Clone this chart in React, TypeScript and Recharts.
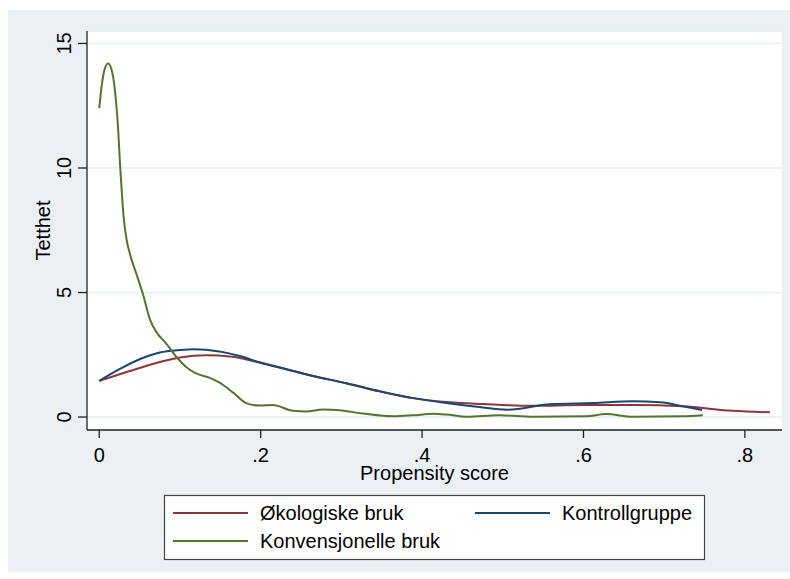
import React from 'react';
import { LineChart, Line, XAxis, YAxis, CartesianGrid } from 'recharts';

// Kernel density of propensity score, by group
const okoX = [0, 0.038, 0.075, 0.1, 0.133, 0.162, 0.199, 0.232, 0.265, 0.306, 0.348, 0.389, 0.434, 0.476, 0.538, 0.6, 0.661, 0.723, 0.785, 0.831];
const okoY = [1.45, 1.85, 2.21, 2.39, 2.48, 2.43, 2.19, 1.92, 1.65, 1.36, 1.03, 0.76, 0.59, 0.52, 0.45, 0.48, 0.48, 0.43, 0.25, 0.19];

const kontrollX = [0, 0.025, 0.05, 0.075, 0.1, 0.116, 0.149, 0.174, 0.199, 0.232, 0.265, 0.306, 0.348, 0.389, 0.43, 0.471, 0.505, 0.558, 0.612, 0.661, 0.695, 0.723, 0.747];
const kontrollY = [1.45, 1.92, 2.32, 2.59, 2.69, 2.72, 2.63, 2.45, 2.19, 1.92, 1.65, 1.36, 1.03, 0.76, 0.56, 0.4, 0.29, 0.51, 0.56, 0.63, 0.59, 0.43, 0.28];

const konvX = [0, 0.003, 0.007, 0.011, 0.016, 0.0204, 0.0233, 0.026, 0.028, 0.03, 0.034, 0.038, 0.046, 0.054, 0.063, 0.071, 0.083, 0.096, 0.108, 0.12, 0.137, 0.149, 0.166, 0.182, 0.199, 0.215, 0.24, 0.257, 0.277, 0.298, 0.327, 0.364, 0.389, 0.414, 0.43, 0.455, 0.496, 0.538, 0.604, 0.628, 0.661, 0.723, 0.748];
const konvY = [12.4, 13.3, 14.0, 14.2, 13.85, 12.8, 11.6, 10.0, 9.0, 8.1, 7.1, 6.55, 5.75, 4.95, 3.9, 3.4, 2.95, 2.4, 2.0, 1.75, 1.57, 1.38, 0.98, 0.56, 0.46, 0.48, 0.25, 0.22, 0.3, 0.27, 0.14, 0.03, 0.07, 0.13, 0.1, 0.01, 0.07, 0.01, 0.03, 0.12, 0.01, 0.03, 0.07];

const xTicks = [0, 0.2, 0.4, 0.6, 0.8];
const yTicks = [0, 5, 10, 15];

const seriesNames = ['Økologiske bruk', 'Kontrollgruppe', 'Konvensjonelle bruk'];
const seriesColors = ['#90353b', '#1a476f', '#55752f'];

const toPoints = (xs: number[], ys: number[]) => xs.map((x, i) => ({ x, y: ys[i] }));

const okoData = toPoints(okoX, okoY);
const kontrollData = toPoints(kontrollX, kontrollY);
const konvData = toPoints(konvX, konvY);

const FONT = '"Liberation Sans", Arial, sans-serif';
const BG = '#eaf0f3';

const fmtX = (v: number) => (v === 0 ? '0' : String(v).replace(/^0/, ''));

function XTick(props: any) {
  const { x, y, payload } = props;
  return (
    <text x={x} y={y + 24} textAnchor="middle" fontFamily={FONT} fontSize={20} fill="#000">
      {fmtX(payload.value)}
    </text>
  );
}

function YTick(props: any) {
  const { x, y, payload } = props;
  const tx = x - 7;
  return (
    <text x={tx} y={y} textAnchor="middle" fontFamily={FONT} fontSize={20} fill="#000" transform={`rotate(-90, ${tx}, ${y})`}>
      {payload.value}
    </text>
  );
}

function YTitle(props: any) {
  const { viewBox } = props;
  const cy = viewBox.y + viewBox.height / 2;
  const tx = 50;
  return (
    <text x={tx} y={cy} textAnchor="middle" fontFamily={FONT} fontSize={20} fill="#000" transform={`rotate(-90, ${tx}, ${cy})`}>
      Tetthet
    </text>
  );
}

function XTitle(props: any) {
  const { viewBox } = props;
  const cx = viewBox.x + viewBox.width / 2;
  return (
    <text x={cx} y={480} textAnchor="middle" fontFamily={FONT} fontSize={20} fill="#000">
      Propensity score
    </text>
  );
}

function LegendBox() {
  const rows = [
    { name: seriesNames[0], color: seriesColors[0], lx: 173, tx: 260, y: 513 },
    { name: seriesNames[1], color: seriesColors[1], lx: 475, tx: 562, y: 513 },
    { name: seriesNames[2], color: seriesColors[2], lx: 173, tx: 260, y: 541 },
  ];
  return (
    <svg width={790} height={579} style={{ position: 'absolute', left: 0, top: 0, pointerEvents: 'none' }}>
      <rect x={164.5} y={495.5} width={540} height={64} fill="#fff" stroke="#444" strokeWidth={1.2} />
      {rows.map((r) => (
        <g key={r.name}>
          <line x1={r.lx} x2={r.lx + 75} y1={r.y} y2={r.y} stroke={r.color} strokeWidth={2} />
          <text x={r.tx} y={r.y + 7} fontFamily={FONT} fontSize={20} fill="#000">
            {r.name}
          </text>
        </g>
      ))}
    </svg>
  );
}

export default function App() {
  return (
    <div style={{ position: 'absolute', left: 0, top: 0, width: 790, height: 579, background: '#fff', overflow: 'hidden' }}>
      <div style={{ position: 'absolute', left: 8, top: 10, width: 782, height: 562, background: BG }} />
      <div style={{ position: 'absolute', left: 0, top: 0 }}>
        <LineChart width={790} height={579} margin={{ top: 31, right: 8, left: 0, bottom: 0 }}>
          <CartesianGrid vertical={false} horizontal stroke="#e6eef1" strokeWidth={1.5} fill="#fff" />
          <XAxis
            type="number"
            dataKey="x"
            domain={[-0.0152, 0.846]}
            ticks={xTicks}
            allowDataOverflow
            height={149}
            tickSize={8}
            tickMargin={0}
            axisLine={{ stroke: '#222', strokeWidth: 1.3 }}
            tickLine={{ stroke: '#222', strokeWidth: 1.3 }}
            tick={<XTick />}
            label={<XTitle />}
          />
          <YAxis
            type="number"
            domain={[-0.52, 15.5]}
            ticks={yTicks}
            allowDataOverflow
            width={87}
            tickSize={9}
            tickMargin={0}
            axisLine={{ stroke: '#222', strokeWidth: 1.3 }}
            tickLine={{ stroke: '#222', strokeWidth: 1.3 }}
            tick={<YTick />}
            label={<YTitle />}
          />
          <Line data={okoData} dataKey="y" name={seriesNames[0]} type="monotone" stroke={seriesColors[0]} strokeWidth={2} dot={false} isAnimationActive={false} />
          <Line data={kontrollData} dataKey="y" name={seriesNames[1]} type="monotone" stroke={seriesColors[1]} strokeWidth={2} dot={false} isAnimationActive={false} />
          <Line data={konvData} dataKey="y" name={seriesNames[2]} type="monotone" stroke={seriesColors[2]} strokeWidth={2} dot={false} isAnimationActive={false} />
        </LineChart>
      </div>
      <LegendBox />
    </div>
  );
}
